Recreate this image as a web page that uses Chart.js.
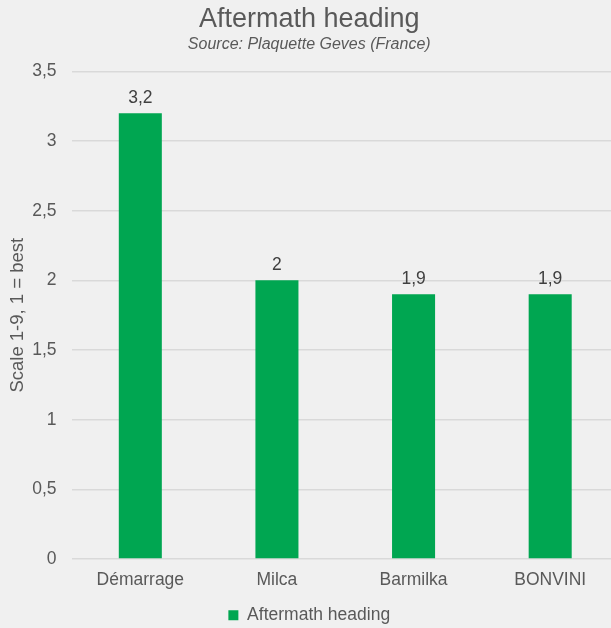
<!DOCTYPE html>
<html>
<head>
<meta charset="utf-8">
<script src="https://cdn.jsdelivr.net/npm/chart.js@4"></script>
<style>
html,body{margin:0;padding:0;background:#f0f0f0;overflow:hidden;}
#wrap{width:620px;height:634px;position:relative;}
</style>
</head>
<body>
<div id="wrap"><canvas id="c"></canvas></div>
<script>
const categories = ["Démarrage", "Milca", "Barmilka", "BONVINI"];
const seriesName = "Aftermath heading";
const values = [3.2, 2, 1.9, 1.9];
const yTicks = [0, 0.5, 1, 1.5, 2, 2.5, 3, 3.5];

const FONT = "'Liberation Sans', Arial, sans-serif";
const TXT = "#595959";
const fmt = v => String(v).replace('.', ',');

const bgPlugin = {
  id: 'bg',
  beforeDraw(chart) {
    const ctx = chart.ctx;
    ctx.save();
    ctx.fillStyle = '#f0f0f0';
    ctx.fillRect(0, 0, chart.width, chart.height);
    ctx.restore();
  }
};

const labelPlugin = {
  id: 'barLabels',
  afterDatasetsDraw(chart) {
    const ctx = chart.ctx;
    const meta = chart.getDatasetMeta(0);
    ctx.save();
    ctx.font = "17.5px " + FONT;
    ctx.fillStyle = "#404040";
    ctx.textAlign = 'center';
    ctx.textBaseline = 'alphabetic';
    meta.data.forEach((bar, i) => {
      ctx.fillText(fmt(chart.data.datasets[0].data[i]), bar.x, bar.y - 10);
    });
    ctx.restore();
  }
};

new Chart(document.getElementById('c'), {
  type: 'bar',
  data: {
    labels: categories,
    datasets: [{
      label: seriesName,
      data: values,
      backgroundColor: '#00a651',
      borderWidth: 0,
      barPercentage: 0.315,
      categoryPercentage: 1
    }]
  },
  options: {
    responsive: true,
    maintainAspectRatio: false,
    animation: false,
    devicePixelRatio: 1,
    layout: { padding: { left: 0, right: 1.5, top: 0, bottom: 0 } },
    plugins: {
      title: {
        display: true,
        text: "Aftermath heading",
        color: TXT,
        font: { family: FONT, size: 27, weight: 'normal', lineHeight: 1.1 },
        padding: { top: 5, bottom: 0 }
      },
      subtitle: {
        display: true,
        text: "Source: Plaquette Geves (France)",
        color: TXT,
        font: { family: FONT, size: 16, style: 'italic', weight: 'normal' },
        padding: { top: 0, bottom: 17.5 }
      },
      legend: {
        position: 'bottom',
        labels: {
          color: TXT,
          font: { family: FONT, size: 17.5 },
          boxWidth: 10,
          boxHeight: 10,
          padding: 8
        }
      },
      tooltip: { enabled: false }
    },
    scales: {
      x: {
        grid: { display: false, drawTicks: false },
        border: { display: false },
        afterFit(scale) { scale.height = 39.5; },
        ticks: { color: TXT, font: { family: FONT, size: 17.5 }, padding: 11 }
      },
      y: {
        min: 0,
        max: 3.5,
        afterBuildTicks(scale) { scale.ticks = yTicks.map(v => ({ value: v })); },
        afterFit(scale) { scale.width = 72; },
        grid: { color: '#d9d9d9', lineWidth: 1.5, drawTicks: false },
        border: { display: false },
        ticks: {
          color: TXT,
          font: { family: FONT, size: 17.5 },
          padding: 15.5,
          callback: v => fmt(v)
        },
        title: {
          display: true,
          text: "Scale 1-9, 1 = best",
          color: TXT,
          font: { family: FONT, size: 18.5 },
          padding: { top: 6.4, bottom: 0 }
        }
      }
    }
  },
  plugins: [bgPlugin, labelPlugin]
});
</script>
</body>
</html>
